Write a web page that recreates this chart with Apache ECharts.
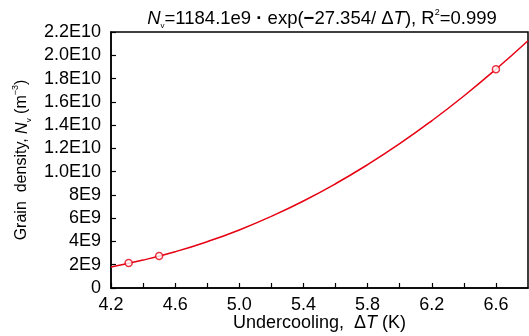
<!DOCTYPE html>
<html><head><meta charset="utf-8">
<script src="https://cdn.jsdelivr.net/npm/echarts@6/dist/echarts.min.js"></script>
<style>html,body{margin:0;padding:0;background:#fff}#c{width:529px;height:336px}</style>
</head><body><div id="c"></div>
<script>
// Fitted curve
var curveX = [4.2, 4.4, 4.6, 4.8, 5.0, 5.2, 5.4, 5.6, 5.8, 6.0, 6.2, 6.4, 6.6, 6.8];
var curveY = [1.80e9, 2.40e9, 3.12e9, 3.98e9, 4.99e9, 6.16e9, 7.48e9, 8.96e9, 1.060e10, 1.240e10, 1.437e10, 1.650e10, 1.880e10, 2.125e10];
// Measured points
var pointX = [4.31, 4.50, 6.60];
var pointY = [2.15e9, 2.75e9, 1.88e10];
// Tick labels
var yTickLabels = ['0','2E9','4E9','6E9','8E9','1.0E10','1.2E10','1.4E10','1.6E10','1.8E10','2.0E10','2.2E10'];
var xTickLabels = ['4.2','4.6','5.0','5.4','5.8','6.2','6.6'];

var FONT = 'Liberation Sans';
var RED = '#e60012';
function richSet(size) {
  return {
    n: {fontFamily: FONT, fontSize: size, color: '#000', fontWeight: 'normal', lineHeight: 22},
    b: {fontFamily: FONT, fontSize: size, color: '#000', fontWeight: 'bold', lineHeight: 22},
    i: {fontFamily: FONT, fontSize: size, color: '#000', fontWeight: 'normal', fontStyle: 'italic', lineHeight: 22},
    s: {fontFamily: FONT, fontSize: 8, color: '#000', fontWeight: 'normal', verticalAlign: 'bottom', lineHeight: 11},
    p: {fontFamily: FONT, fontSize: 9, color: '#000', fontWeight: 'normal', verticalAlign: 'top', lineHeight: 12}
  };
}
var chart = echarts.init(document.getElementById('c'));
chart.setOption({
  animation: false,
  title: {
    text: '{i|N}{s|v}{n|=1184.1e9 }{b|·}{n| exp(}{b|−}{n|27.354/ Δ}{i|T}{n|), R}{p|2}{n|=0.999}',
    left: 317, top: 3, textAlign: 'center',
    textStyle: {fontWeight: 'normal', rich: richSet(18.5)}
  },
  grid: {left: 111, right: 1, top: 32, bottom: 48, outerBoundsMode: 'none', show: true, borderColor: '#000', borderWidth: 1.5, backgroundColor: 'transparent'},
  xAxis: {
    type: 'value', min: 4.2, max: 6.8, interval: 0.2,
    axisLine: {lineStyle: {color: '#000', width: 1.5}},
    axisTick: {inside: true, length: 5, lineStyle: {color: '#000', width: 1.2}},
    splitLine: {show: false},
    axisLabel: {
      color: '#000', fontFamily: FONT, fontSize: 18, margin: 8,
      formatter: function (v) {
        var idx = Math.round((v - 4.2) / 0.4 * 1000) / 1000;
        return Number.isInteger(idx) && xTickLabels[idx] !== undefined ? xTickLabels[idx] : '';
      },
      showMaxLabel: false
    },
    name: '{n|Undercooling,  Δ}{i|T}{n| (K)}',
    nameLocation: 'middle', nameGap: 24, nameMoveOverlap: false,
    nameTextStyle: {rich: richSet(18)}
  },
  yAxis: {
    type: 'value', min: 0, max: 2.2e10, interval: 2e9,
    axisLine: {lineStyle: {color: '#000', width: 1.5}},
    axisTick: {inside: true, length: 5, lineStyle: {color: '#000', width: 1.2}},
    splitLine: {show: false},
    axisLabel: {
      color: '#000', fontFamily: FONT, fontSize: 18, margin: 10,
      formatter: function (v) { return yTickLabels[Math.round(v / 2e9)]; }
    },
    name: '{n|Grain  density, }{i|N}{s|v}{n| (m}{p|−3}{n|)}',
    nameLocation: 'middle', nameGap: 77,
    nameTextStyle: {rich: richSet(16)}
  },
  series: [
    {
      type: 'line', smooth: true, showSymbol: false, silent: true,
      data: curveX.map(function (x, i) { return [x, curveY[i]]; }),
      lineStyle: {color: RED, width: 1.5}, z: 2
    },
    {
      type: 'scatter', symbol: 'circle', symbolSize: 7,
      data: pointX.map(function (x, i) { return [x, pointY[i]]; }),
      itemStyle: {color: '#fff', borderColor: RED, borderWidth: 1.5}, z: 3
    }
  ]
});
</script></body></html>
